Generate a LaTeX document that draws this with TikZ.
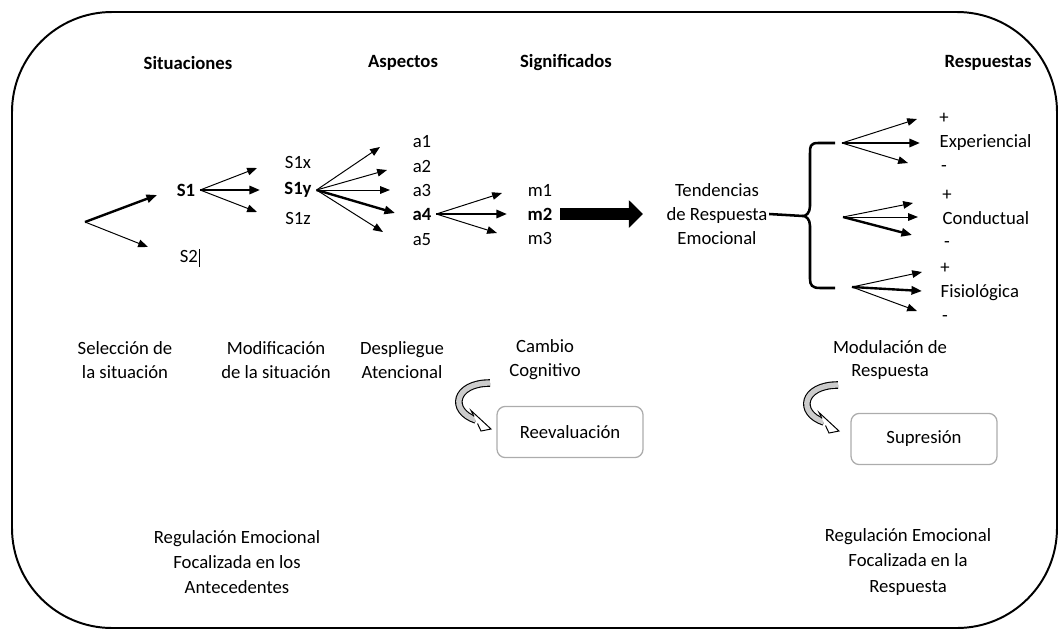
\documentclass[tikz,border=0pt]{standalone}
\usepackage{fontspec}
\setmainfont{Carlito}
\usepackage{tikz}
\usetikzlibrary{arrows.meta}
\usetikzlibrary{positioning}

\begin{document}
\begin{tikzpicture}[x=0.025cm,y=-0.025cm,
  font=\fontsize{13.3}{17}\selectfont,
  thin arrow/.style={-{Triangle[length=7pt,width=5.4pt]},line width=0.7pt},
  bold arrow/.style={-{Triangle[length=7.5pt,width=5.8pt]},line width=1.7pt},
  head node/.style={font=\fontsize{13.3}{17}\selectfont\bfseries},
  text node/.style={align=center,inner sep=1pt},
  result box/.style={rectangle,rounded corners=6pt,draw=gray!65,line width=0.9pt,
    minimum width=3.65cm,minimum height=1.28cm}]

  \useasboundingbox (0,0) rectangle (1059,639);
  \draw[line width=1.4pt,rounded corners=2.5cm] (12,12) rectangle (1057,628);

  % headings
  \node[head node] (sit) at (188,63) {Situaciones};
  \node[head node] (asp) at (403,63) {Aspectos};
  \node[head node] (sig) at (566,63) {Significados};
  \node[head node] (res) at (988,63) {Respuestas};

  % situations
  \coordinate (o) at (85,222);
  \node[font=\fontsize{13.3}{17}\selectfont\bfseries] (s1) at (186,190) {S1};
  \node (s2) at (190,258) {S2\kern1pt\rule[-3pt]{0.5pt}{13pt}};
  \coordinate (t1) at (157,195);
  \coordinate (t2) at (148,247);
  \draw[bold arrow] (o) -- (t1);
  \draw[thin arrow] (o) -- (t2);

  \node (s1x) at (298,162) {S1x};
  \node[font=\fontsize{13.3}{17}\selectfont\bfseries] (s1y) at (298,190) {S1y};
  \node (s1z) at (298,218) {S1z};
  \coordinate (u1) at (257,168);
  \coordinate (u2) at (260,190);
  \coordinate (u3) at (257,212);
  \draw[thin arrow] (s1.east) -- (u1);
  \draw[bold arrow] (s1.east) -- (u2);
  \draw[thin arrow] (s1.east) -- (u3);

  % aspects
  \node (a1) at (422,142) {a1};
  \node (a2) at (422,166) {a2};
  \node (a3) at (422,190) {a3};
  \node[font=\fontsize{13.3}{17}\selectfont\bfseries] (a4) at (422,214) {a4};
  \node (a5) at (422,240) {a5};
  \coordinate (v1) at (380,147);
  \coordinate (v2) at (387,170);
  \coordinate (v3) at (390,190);
  \coordinate (v4) at (395,213);
  \coordinate (v5) at (383,232);
  \draw[thin arrow] (s1y.east) -- (v1);
  \draw[thin arrow] (s1y.east) -- (v2);
  \draw[thin arrow] (s1y.east) -- (v3);
  \draw[bold arrow] (s1y.east) -- (v4);
  \draw[thin arrow] (s1y.east) -- (v5);

  % meanings
  \node (m1) at (540,190) {m1};
  \node[font=\fontsize{13.3}{17}\selectfont\bfseries] (m2) at (540,214) {m2};
  \node (m3) at (540,238) {m3};
  \coordinate (w1) at (502,193);
  \coordinate (w2) at (507,214);
  \coordinate (w3) at (497,233);
  \draw[thin arrow] (a4.east) -- (w1);
  \draw[bold arrow] (a4.east) -- (w2);
  \draw[thin arrow] (a4.east) -- (w3);
  \coordinate (big) at (643,214);
  \draw[line width=8.5pt,-{Triangle[length=10pt,width=19pt]}] (m2.east) ++(3,0) -- (big);

  % tendencies and responses
  \node[text node] (tend) at (717,214) {Tendencias\\de Respuesta\\Emocional};
  \coordinate (tip) at (803,216);
  \draw[line width=1.8pt] (tend.east) -- (tip);
  \draw[line width=1.8pt] (835,143) -- (818,143) .. controls (810,143) and (810,147) .. (810,153)
    -- (810,206) .. controls (810,213) and (806,216) .. (tip)
    .. controls (806,216) and (810,219) .. (810,226) -- (810,279)
    .. controls (810,285) and (812,288) .. (820,288) -- (835,288);

  \node[anchor=west,inner sep=1pt] (exp) at (938,143) {Experiencial};
  \node (exp+) at (944,118) {+};
  \node (exp-) at (944,169) {-};
  \coordinate (e0) at (842,143);
  \coordinate (e1) at (917,119);
  \coordinate (e2) at (920,143);
  \coordinate (e3) at (908,163);
  \draw[thin arrow] (e0) -- (e1);
  \draw[bold arrow] (e0) -- (e2);
  \draw[thin arrow] (e0) -- (e3);

  \node[anchor=west,inner sep=1pt] (con) at (941,218) {Conductual};
  \node (con+) at (947,195) {+};
  \node (con-) at (947,245) {-};
  \coordinate (c0) at (843,217);
  \coordinate (c1) at (913,203);
  \coordinate (c2) at (918,217);
  \coordinate (c3) at (912,235);
  \draw[thin arrow] (c0) -- (c1);
  \draw[thin arrow] (c0) -- (c2);
  \draw[bold arrow] (c0) -- (c3);

  \node[anchor=west,inner sep=1pt] (fis) at (939,293) {Fisiológica};
  \node (fis+) at (945,268) {+};
  \node (fis-) at (945,319) {-};
  \coordinate (f0) at (852,287);
  \coordinate (f1) at (922,272);
  \coordinate (f2) at (922,291);
  \coordinate (f3) at (917,311);
  \draw[thin arrow] (f0) -- (f1);
  \draw[bold arrow] (f0) -- (f2);
  \draw[thin arrow] (f0) -- (f3);

  % strategies
  \node[text node] (sel) at (125,360) {Selección de\\la situación};
  \node[text node] (mod) at (276,360) {Modificación\\de la situación};
  \node[text node] (des) at (402,360) {Despliegue\\Atencional};
  \node[text node] (cam) at (545,360) {Cambio\\Cognitivo};
  \node[text node] (modr) at (890,360) {Modulación de\\Respuesta};

  \node[result box] (reev) at (570,432) {Reevaluación};
  \node[result box] (supr) at (924,439) {Supresión};

  % curved block arrows
  \foreach \dx/\dy in {0/0,348/2} {
    \begin{scope}[shift={(\dx,\dy)}]
      \draw[line width=5.4pt] (490,383) .. controls (454,383) and (449,411) .. (476,420);
      \draw[line width=3.8pt,gray!40] (490,383) .. controls (454,383) and (449,411) .. (476,420);
      \fill[white] (471,410.5) -- (491,429) -- (481,431) -- cycle;
      \draw[line width=0.7pt] (474,416.5) -- (471,410.5) -- (491,429) -- (481,431) -- (477.5,423.5);
    \end{scope}
  }

  % bottom titles
  \node[text node,font=\fontsize{13.3}{18}\selectfont] (ant) at (237,562) {Regulación Emocional\\Focalizada en los\\Antecedentes};
  \node[text node,font=\fontsize{13.3}{18}\selectfont] (resp) at (908,562) {Regulación Emocional\\Focalizada en la\\Respuesta};
\end{tikzpicture}
\end{document}
